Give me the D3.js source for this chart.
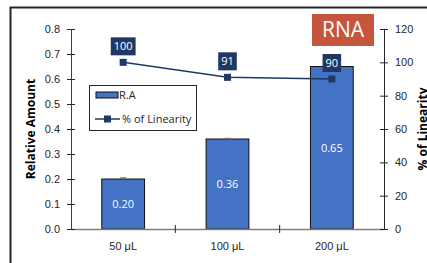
<!DOCTYPE html>
<html>
<head>
<meta charset="utf-8">
<script src="https://cdn.jsdelivr.net/npm/d3@7"></script>
<style>
  body { margin: 0; background: #fff; }
  svg { display: block; font-family: "Open Sans", "Noto Sans", sans-serif; }
</style>
</head>
<body>
<div id="chart"></div>
<script>
// data
let categories = ["50 μL", "100 μL", "200 μL"];
let amount = [0.20, 0.36, 0.65];
let amountErr = [0.004, 0.002, 0.002];
let linearity = [100, 91, 90];
let leftTicks = [0, 0.1, 0.2, 0.3, 0.4, 0.5, 0.6, 0.7, 0.8];
let rightTicks = [0, 20, 40, 60, 80, 100, 120];

let W = 427, H = 263;
let margin = { top: 29, right: 43, bottom: 34, left: 71 },
    width = W - margin.left - margin.right,
    height = H - margin.top - margin.bottom;

let svg = d3.select("#chart").append("svg")
    .attr("width", W)
    .attr("height", H);

// outer frame (only left and top edges are visible)
svg.append("path")
    .attr("d", "M10.5," + H + "V7.5H" + W)
    .attr("fill", "none")
    .attr("stroke", "#262626")
    .attr("stroke-width", 2);

let g = svg.append("g")
    .attr("transform", "translate(" + margin.left + "," + margin.top + ")");

let x = d3.scaleBand()
    .domain(categories)
    .range([0, width])
    .paddingInner(0.59)
    .paddingOuter(0.295);
let xBand = d3.scaleBand().domain(categories).range([0, width]);
let y = d3.scaleLinear().domain([0, 0.8]).range([height, 0]);
let y2 = d3.scaleLinear().domain([0, 120]).range([height, 0]);

// bars
g.selectAll(".bar")
    .data(amount)
    .enter()
    .append("rect")
    .attr("class", "bar")
    .attr("x", (d, i) => x(categories[i]))
    .attr("width", x.bandwidth())
    .attr("y", d => y(d))
    .attr("height", d => height - y(d))
    .attr("fill", "#4472C4")
    .attr("stroke", "#111")
    .attr("stroke-width", 1);

// error caps
amount.forEach(function(d, i) {
    let cx = x(categories[i]) + x.bandwidth() / 2;
    g.append("path")
        .attr("d", "M" + (cx - 3) + "," + y(d + amountErr[i]) + "H" + (cx + 3) +
            "M" + cx + "," + y(d + amountErr[i]) + "V" + y(d))
        .attr("stroke", "#777")
        .attr("stroke-width", 1.5);
});

// bar value labels
g.selectAll(".barlabel")
    .data(amount)
    .enter()
    .append("text")
    .attr("x", (d, i) => x(categories[i]) + x.bandwidth() / 2)
    .attr("y", d => (y(d) + height) / 2)
    .attr("dy", "0.35em")
    .attr("text-anchor", "middle")
    .attr("fill", "#fff")
    .style("font-size", "11px")
    .text(d => d.toFixed(2));

// x axis
let xAxis = g.append("g")
    .attr("transform", "translate(0," + height + ")")
    .call(d3.axisBottom(xBand).tickSize(0).tickPadding(13));
xAxis.select(".domain").attr("stroke", "#7f7f7f").attr("stroke-width", 1.5);
xAxis.selectAll("text").style("font-size", "11px").attr("fill", "#262626");
[1, 2].forEach(function(i) {
    g.append("line")
        .attr("x1", xBand.step() * i).attr("x2", xBand.step() * i)
        .attr("y1", height - 4).attr("y2", height + 4)
        .attr("stroke", "#262626");
});

// left axis
let yAxis = g.append("g")
    .call(d3.axisLeft(y).tickValues(leftTicks).tickFormat(d3.format(".1f"))
        .tickSizeInner(4).tickSizeOuter(0).tickPadding(7));
yAxis.select(".domain").attr("stroke", "#404040");
yAxis.selectAll(".tick line").attr("x2", 4).attr("x1", -4).attr("stroke", "#262626");
yAxis.selectAll("text").style("font-size", "11px").attr("fill", "#262626");

// right axis
let yAxis2 = g.append("g")
    .attr("transform", "translate(" + width + ",0)")
    .call(d3.axisRight(y2).tickValues(rightTicks)
        .tickSizeInner(4).tickSizeOuter(0).tickPadding(7));
yAxis2.select(".domain").attr("stroke", "#262626");
yAxis2.selectAll(".tick line").attr("x1", -4).attr("x2", 4).attr("stroke", "#262626");
yAxis2.selectAll("text").style("font-size", "11px").attr("fill", "#262626");

// axis titles
svg.append("text")
    .attr("transform", "translate(35," + (margin.top + height / 2) + ") rotate(-90)")
    .attr("text-anchor", "middle")
    .style("font-size", "12px")
    .style("font-weight", "bold")
    .attr("fill", "#000")
    .text("Relative Amount");
svg.append("text")
    .attr("transform", "translate(427," + (margin.top + height / 2) + ") rotate(-90)")
    .attr("text-anchor", "middle")
    .style("font-size", "12px")
    .style("font-weight", "bold")
    .attr("fill", "#000")
    .text("% of Linearity");

// linearity line
let navy = "#1F3864";
let line = d3.line()
    .x((d, i) => xBand(categories[i]) + xBand.bandwidth() / 2)
    .y(d => y2(d));
g.append("path")
    .datum(linearity)
    .attr("d", line)
    .attr("fill", "none")
    .attr("stroke", navy)
    .attr("stroke-width", 1.5);
g.selectAll(".marker")
    .data(linearity)
    .enter()
    .append("rect")
    .attr("x", (d, i) => xBand(categories[i]) + xBand.bandwidth() / 2 - 3.5)
    .attr("y", d => y2(d) - 3.5)
    .attr("width", 7)
    .attr("height", 7)
    .attr("fill", navy);

// linearity labels in boxes
linearity.forEach(function(d, i) {
    let cx = xBand(categories[i]) + xBand.bandwidth() / 2;
    let lg = g.append("g");
    let box = lg.append("rect").attr("fill", navy);
    let t = lg.append("text")
        .attr("x", cx)
        .attr("y", y2(d) - 16)
        .attr("dy", "0.35em")
        .attr("text-anchor", "middle")
        .attr("fill", "#fff")
        .style("font-size", "11px")
        .text(d);
    let bb = t.node().getBBox();
    box.attr("x", cx - bb.width / 2 - 3)
        .attr("y", y2(d) - 25)
        .attr("width", bb.width + 6)
        .attr("height", 18);
});

// legend
let legend = svg.append("g");
legend.append("rect")
    .attr("x", 89.5).attr("y", 85.5)
    .attr("width", 107).attr("height", 45)
    .attr("fill", "#fff")
    .attr("stroke", "#262626");
legend.append("rect")
    .attr("x", 96).attr("y", 92)
    .attr("width", 22).attr("height", 6)
    .attr("fill", "#4472C4")
    .attr("stroke", "#111");
legend.append("text")
    .attr("x", 119).attr("y", 95).attr("dy", "0.35em")
    .style("font-size", "11px").attr("fill", "#262626")
    .text("R.A");
legend.append("line")
    .attr("x1", 95).attr("x2", 120).attr("y1", 119).attr("y2", 119)
    .attr("stroke", navy).attr("stroke-width", 1.5);
legend.append("rect")
    .attr("x", 104).attr("y", 115.5).attr("width", 7).attr("height", 7)
    .attr("fill", navy);
legend.append("text")
    .attr("x", 122).attr("y", 119).attr("dy", "0.35em")
    .style("font-size", "11px").attr("fill", "#262626")
    .text("% of Linearity");

// RNA tag
svg.append("rect")
    .attr("x", 312).attr("y", 14)
    .attr("width", 62).attr("height", 32)
    .attr("fill", "#C5553C");
svg.append("text")
    .attr("x", 343).attr("y", 30).attr("dy", "0.35em")
    .attr("text-anchor", "middle")
    .attr("fill", "#fff")
    .style("font-size", "21px")
    .text("RNA");
</script>
</body>
</html>
